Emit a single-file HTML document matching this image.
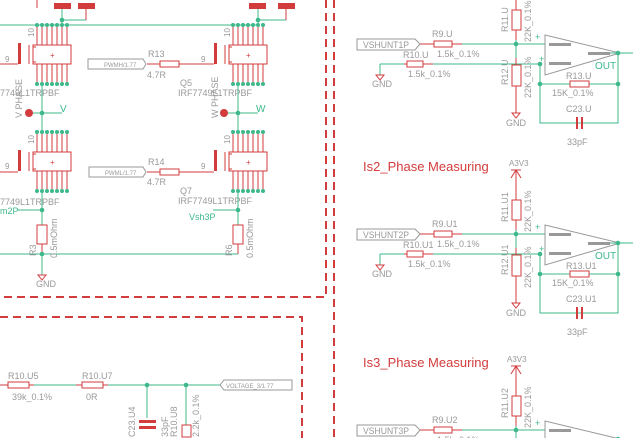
<!DOCTYPE html>
<html><head><meta charset="utf-8"><style>
html,body{margin:0;padding:0;background:#fff;width:633px;height:438px;overflow:hidden}
svg{display:block}
svg path{fill:none}
text{font-family:"Liberation Sans",sans-serif}
</style></head><body>
<svg width="633" height="438" viewBox="0 0 633 438" xmlns="http://www.w3.org/2000/svg">
<defs>
<g id="tr">
 <g stroke="#d23c3c" stroke-width="1" fill="none">
  <path d="M0,0V20M5,0V20M10,0V20M15,0V20M20,0V20M25,0V20M30,0V20"/>
  <path d="M0,39V59M5,39V59M10,39V59M15,39V59M20,39V59M25,39V59M30,39V59"/>
  <rect x="-4" y="20" width="38" height="19"/>
  <path d="M-8,20v19M-4,22h3M-4,37h3"/>
 </g>
 <text x="13" y="33" font-size="8" fill="#d23c3c">+</text>
 <g fill="#3cb88a"><circle cx="0" cy="0" r="2"/><circle cx="5" cy="0" r="2"/><circle cx="10" cy="0" r="2"/><circle cx="15" cy="0" r="2"/><circle cx="20" cy="0" r="2"/><circle cx="25" cy="0" r="2"/><circle cx="30" cy="0" r="2"/>
 <circle cx="0" cy="59" r="2"/><circle cx="5" cy="59" r="2"/><circle cx="10" cy="59" r="2"/><circle cx="15" cy="59" r="2"/><circle cx="20" cy="59" r="2"/><circle cx="25" cy="59" r="2"/><circle cx="30" cy="59" r="2"/></g>
 <rect x="-19" y="18" width="3" height="21" fill="#d23c3c"/>
 <text x="-3" y="12" font-size="8" fill="#999" transform="rotate(-90 -3 12)">10</text>
</g>
<g id="sec">
 <polygon points="357,39 415,39 420,44 415,50 357,50" fill="none" stroke="#999"/>
 <path d="M420,44H434M452,44H462" stroke="#d23c3c"/>
 <rect x="434" y="41" width="18" height="6" fill="none" stroke="#d23c3c"/>
 <path d="M462,44H545" stroke="#3cb88a"/>
 <text x="437" y="57" font-size="9" fill="#999">1.5k_0.1%</text>
 <path d="M380,64H404M433,64H540M380,64V75" stroke="#3cb88a"/>
 <path d="M404,64H407M423,64H433" stroke="#d23c3c"/>
 <rect x="407" y="61" width="16" height="6" fill="none" stroke="#d23c3c"/>
 <text x="408" y="77" font-size="9" fill="#999">1.5k_0.1%</text>
 <polygon points="376,75 384,75 380,80" fill="none" stroke="#d23c3c"/>
 <text x="372" y="87" font-size="9" fill="#999">GND</text>
 <path d="M516,0V10M516,30V40M516,58V65M516,86V113" stroke="#d23c3c"/>
 <path d="M516,40V58" stroke="#3cb88a"/>
 <rect x="512" y="10" width="9" height="20" fill="none" stroke="#d23c3c"/>
 <rect x="512" y="65" width="9" height="21" fill="none" stroke="#d23c3c"/>
 <polygon points="512,113 520,113 516,118" fill="none" stroke="#d23c3c"/>
 <text x="506" y="126" font-size="9" fill="#999">GND</text>
 <text x="531" y="42" font-size="9" fill="#999" transform="rotate(-90 531 42)">22K_0.1%</text>
 <text x="531" y="98" font-size="9" fill="#999" transform="rotate(-90 531 98)">22K_0.1%</text>
 <circle cx="516" cy="44" r="2.3" fill="#3cb88a"/>
 <polygon points="545,35 545,75 620,53" fill="none" stroke="#999"/>
 <rect x="549" y="43" width="22" height="3" fill="#999"/>
 <rect x="549" y="62" width="22" height="3" fill="#999"/>
 <rect x="588" y="52" width="22" height="3" fill="#999"/>
 <text x="535" y="40" font-size="9" fill="#3cb88a">+</text>
 <text x="539" y="62" font-size="9" fill="#3cb88a">+</text>
 <path d="M610,53H633M540,64V123H618V53M540,84H570M589,84H618" stroke="#3cb88a" fill="none"/>
 <circle cx="618" cy="53" r="2.3" fill="#3cb88a"/><circle cx="540" cy="64" r="2.3" fill="#3cb88a"/>
 <circle cx="540" cy="84" r="2.3" fill="#3cb88a"/><circle cx="618" cy="84" r="2.3" fill="#3cb88a"/>
 <text x="595" y="69" font-size="10" fill="#3cb88a">OUT</text>
 <rect x="570" y="81" width="19" height="6" fill="none" stroke="#d23c3c"/>
 <text x="552" y="96" font-size="9" fill="#999">15K_0.1%</text>
 <rect x="576" y="117" width="2" height="12" fill="#d23c3c"/><rect x="581" y="117" width="2" height="12" fill="#d23c3c"/>
 <text x="567" y="145" font-size="9" fill="#999">33pF</text>
</g>
</defs>

<path d="M326,0V297H0" fill="none" stroke="#d23c3c" stroke-width="2" stroke-dasharray="8,5"/>
<path d="M334,0V438" fill="none" stroke="#d23c3c" stroke-width="2" stroke-dasharray="8,5"/>
<path d="M0,317H302V438" fill="none" stroke="#d23c3c" stroke-width="2" stroke-dasharray="8,5"/>

<path d="M0,25H258M62,8V25M62,20H86M258,8V25M258,20H286" stroke="#3cb88a"/>
<path d="M86,8V20M286,8V20M37,0V8" stroke="#d23c3c"/>
<rect x="54" y="3" width="17" height="6" fill="#d23c3c"/><rect x="78" y="3" width="17" height="6" fill="#d23c3c"/>
<rect x="249" y="3" width="17" height="6" fill="#d23c3c"/><rect x="278" y="3" width="17" height="6" fill="#d23c3c"/>
<circle cx="62" cy="20" r="2.3" fill="#3cb88a"/><circle cx="258" cy="20" r="2.3" fill="#3cb88a"/>
<use href="#tr" x="37" y="25"/><use href="#tr" x="37" y="132"/>
<use href="#tr" x="233" y="25"/><use href="#tr" x="233" y="132"/>
<path d="M0,64H18M0,172H18" stroke="#d23c3c"/>
<text x="5" y="62" font-size="8" fill="#999">9</text><text x="5" y="169" font-size="8" fill="#999">9</text>
<text x="0" y="96" font-size="9" fill="#999">7749L1TRPBF</text>
<text x="0" y="205" font-size="9" fill="#999">7749L1TRPBF</text>
<path d="M42,84V132M29,113H62M238,84V132M224,113H258" stroke="#3cb88a"/>
<circle cx="29" cy="113" r="4" fill="#d23c3c"/><circle cx="224" cy="113" r="4" fill="#d23c3c"/>
<circle cx="42" cy="113" r="2.3" fill="#3cb88a"/><circle cx="238" cy="113" r="2.3" fill="#3cb88a"/>
<text x="60" y="112" font-size="10" fill="#3cb88a">V</text><text x="256" y="112" font-size="10" fill="#3cb88a">W</text>
<text x="22" y="118" font-size="9" fill="#999" transform="rotate(-90 22 118)">V PHASE</text>
<text x="218" y="118" font-size="9" fill="#999" transform="rotate(-90 218 118)">W PHASE</text>
<polygon points="88,59 143,59 146,64 143,69 88,69" fill="none" stroke="#999"/>
<text x="104" y="67" font-size="6" fill="#999">PWMH/1.77</text>
<polygon points="89,167 143,167 146,172 143,177 89,177" fill="none" stroke="#999"/>
<text x="105" y="175" font-size="6" fill="#999">PWML/1.77</text>
<path d="M147,64H160M179,64H214M147,172H160M179,172H214" stroke="#d23c3c"/>
<rect x="160" y="61" width="19" height="6" fill="none" stroke="#d23c3c"/>
<rect x="160" y="169" width="19" height="6" fill="none" stroke="#d23c3c"/>
<text x="148" y="57" font-size="9" fill="#999">R13</text><text x="147" y="78" font-size="9" fill="#999">4.7R</text>
<text x="148" y="165" font-size="9" fill="#999">R14</text><text x="147" y="185" font-size="9" fill="#999">4.7R</text>
<text x="201" y="62" font-size="8" fill="#999">9</text><text x="201" y="169" font-size="8" fill="#999">9</text>
<text x="180" y="86" font-size="9" fill="#999">Q5</text><text x="178" y="96" font-size="9" fill="#999">IRF7749L1TRPBF</text>
<text x="180" y="194" font-size="9" fill="#999">Q7</text><text x="178" y="204" font-size="9" fill="#999">IRF7749L1TRPBF</text>
<path d="M18,210H42M42,191V225M213,210H238M238,191V225M0,254H238M42,254V275" stroke="#3cb88a"/>
<path d="M42,244V254M238,244V254" stroke="#d23c3c"/>
<rect x="37" y="225" width="10" height="19" fill="none" stroke="#d23c3c"/>
<rect x="233" y="225" width="10" height="19" fill="none" stroke="#d23c3c"/>
<circle cx="42" cy="210" r="2.3" fill="#3cb88a"/><circle cx="238" cy="210" r="2.3" fill="#3cb88a"/><circle cx="42" cy="254" r="2.3" fill="#3cb88a"/>
<text x="0" y="214" font-size="9" fill="#3cb88a">m2P</text>
<text x="189" y="220" font-size="9" fill="#3cb88a">Vsh3P</text>
<text x="36" y="256" font-size="9" fill="#999" transform="rotate(-90 36 256)">R3</text>
<text x="57" y="258" font-size="9" fill="#999" transform="rotate(-90 57 258)">0.5mOhm</text>
<text x="232" y="256" font-size="9" fill="#999" transform="rotate(-90 232 256)">R6</text>
<text x="253" y="258" font-size="9" fill="#999" transform="rotate(-90 253 258)">0.5mOhm</text>
<polygon points="38,275 46,275 42,280" fill="none" stroke="#d23c3c"/>
<text x="36" y="287" font-size="9" fill="#999">GND</text>

<path d="M0,385H8M29,385H34M76,385H82M103,385H108" stroke="#d23c3c"/>
<rect x="8" y="382" width="21" height="6" fill="none" stroke="#d23c3c"/>
<rect x="82" y="382" width="21" height="6" fill="none" stroke="#d23c3c"/>
<path d="M34,385H76M108,385H220M147,385V418M186,385V425" stroke="#3cb88a"/>
<circle cx="147" cy="385" r="2.3" fill="#3cb88a"/><circle cx="186" cy="385" r="2.3" fill="#3cb88a"/>
<polygon points="220,385 224,380 292,380 292,390 224,390" fill="none" stroke="#999"/>
<text x="226" y="388" font-size="6" fill="#999">VOLTAGE_3/1.77</text>
<text x="8" y="379" font-size="9" fill="#999">R10.U5</text><text x="12" y="400" font-size="9" fill="#999">39k_0.1%</text>
<text x="82" y="379" font-size="9" fill="#999">R10.U7</text><text x="86" y="400" font-size="9" fill="#999">0R</text>
<rect x="139" y="420" width="17" height="3" fill="#d23c3c"/><rect x="139" y="426" width="17" height="3" fill="#d23c3c"/>
<rect x="182" y="425" width="9" height="12" fill="none" stroke="#d23c3c"/>
<text x="135" y="437" font-size="9" fill="#999" transform="rotate(-90 135 437)">C23.U4</text>
<text x="168" y="437" font-size="9" fill="#999" transform="rotate(-90 168 437)">33pF</text>
<text x="177" y="437" font-size="9" fill="#999" transform="rotate(-90 177 437)">R10.U8</text>
<text x="199" y="437" font-size="9" fill="#999" transform="rotate(-90 199 437)">2.2k_0.1%</text>

<use href="#sec"/>
<g transform="translate(0,190)"><use href="#sec"/></g>
<g transform="translate(0,386)"><use href="#sec"/></g>
<g font-size="9" fill="#999">
<text x="363" y="48" textLength="46" lengthAdjust="spacingAndGlyphs">VSHUNT1P</text>
<text x="432" y="37">R9.U</text><text x="403" y="58">R10.U</text><text x="566" y="79">R13.U</text><text x="566" y="112">C23.U</text>
<text x="508" y="32" transform="rotate(-90 508 32)">R11.U</text>
<text x="508" y="85" transform="rotate(-90 508 85)">R12.U</text>
<text x="363" y="238" textLength="46" lengthAdjust="spacingAndGlyphs">VSHUNT2P</text>
<text x="432" y="227">R9.U1</text><text x="403" y="248">R10.U1</text><text x="566" y="269">R13.U1</text><text x="566" y="302">C23.U1</text>
<text x="508" y="222" transform="rotate(-90 508 222)">R11.U1</text>
<text x="508" y="275" transform="rotate(-90 508 275)">R12.U1</text>
<text x="363" y="434" textLength="46" lengthAdjust="spacingAndGlyphs">VSHUNT3P</text>
<text x="432" y="423">R9.U2</text>
<text x="508" y="418" transform="rotate(-90 508 418)">R11.U2</text>
</g>
<text x="363" y="171" font-size="13" fill="#d23c3c">Is2_Phase Measuring</text>
<text x="363" y="367" font-size="13" fill="#d23c3c">Is3_Phase Measuring</text>
<text x="509" y="166" font-size="8" fill="#999">A3V3</text><text x="507" y="362" font-size="8" fill="#999">A3V3</text>
<path d="M511,170H521M516,170V190M511,178L516,170L521,178M511,366H521M516,366V386M511,374L516,366L521,374" stroke="#d23c3c" fill="none"/>
</svg>
</body></html>
